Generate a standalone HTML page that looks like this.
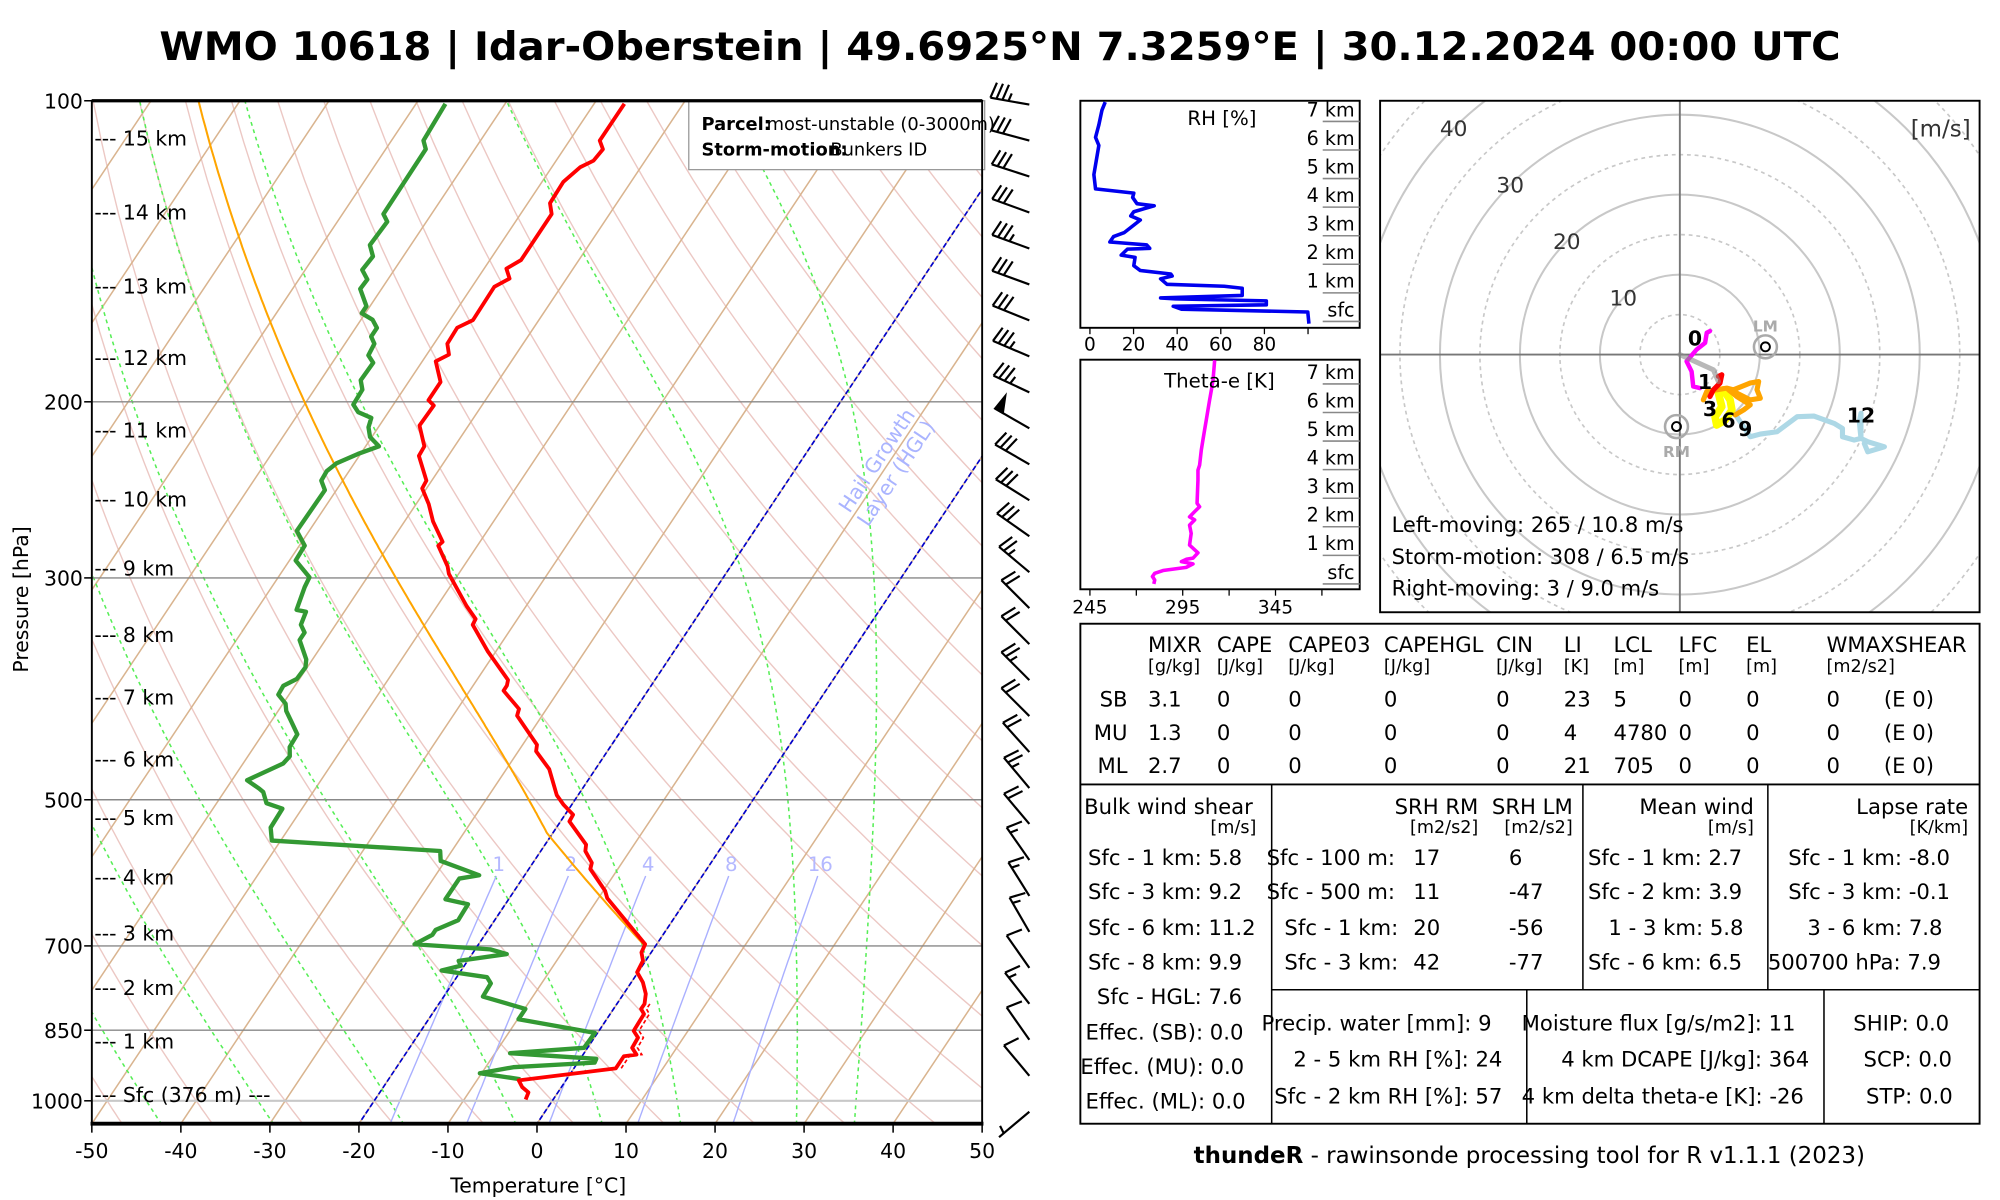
<!DOCTYPE html>
<html><head><meta charset="utf-8"><title>Skew-T WMO 10618</title>
<style>html,body{margin:0;padding:0;background:#fff}svg{display:block}text{font-family:"DejaVu Sans","Liberation Sans",sans-serif}</style>
</head><body>
<svg id="root" xmlns="http://www.w3.org/2000/svg" width="2000" height="1200" viewBox="0 0 1568 940.8">
<defs>
<clipPath id="skewClip"><rect x="72" y="79" width="698" height="802"/></clipPath>
<clipPath id="hodoClip"><rect x="1082" y="79" width="470" height="401"/></clipPath>
<clipPath id="rhClip"><rect x="847" y="79" width="219" height="178"/></clipPath>
<clipPath id="thClip"><rect x="847" y="282" width="219" height="180"/></clipPath>
</defs>
<text x="784" y="47" text-anchor="middle" font-size="31" font-weight="bold" textLength="1318" lengthAdjust="spacingAndGlyphs">WMO 10618 | Idar-Oberstein | 49.6925°N 7.3259°E | 30.12.2024 00:00 UTC</text>
<g id="skew"></g>
<g id="barbs"></g>
<g id="rh"></g>
<g id="th"></g>
<g id="hodo"></g>
<g id="table" font-size="16.6">
  <rect x="847" y="489" width="705" height="392" fill="none" stroke="#000" stroke-width="1.5"/>
  <line x1="847" y1="615" x2="1552" y2="615" stroke="#000" stroke-width="1.5"/>
  <line x1="997" y1="615" x2="997" y2="881" stroke="#000" stroke-width="1.2"/>
  <line x1="1241" y1="615" x2="1241" y2="776" stroke="#000" stroke-width="1.2"/>
  <line x1="1386" y1="615" x2="1386" y2="776" stroke="#000" stroke-width="1.2"/>
  <line x1="997" y1="776" x2="1552" y2="776" stroke="#000" stroke-width="1.2"/>
  <line x1="1197" y1="776" x2="1197" y2="881" stroke="#000" stroke-width="1.2"/>
  <line x1="1430" y1="776" x2="1430" y2="881" stroke="#000" stroke-width="1.2"/>
  <g>
    <text x="900" y="511">MIXR</text><text x="954" y="511">CAPE</text><text x="1010" y="511">CAPE03</text><text x="1085" y="511">CAPEHGL</text><text x="1173" y="511">CIN</text><text x="1226" y="511">LI</text><text x="1265" y="511">LCL</text><text x="1316" y="511">LFC</text><text x="1369" y="511">EL</text><text x="1432" y="511">WMAXSHEAR</text>
    <g font-size="13.8"><text x="900" y="527">[g/kg]</text><text x="954" y="527">[J/kg]</text><text x="1010" y="527">[J/kg]</text><text x="1085" y="527">[J/kg]</text><text x="1173" y="527">[J/kg]</text><text x="1226" y="527">[K]</text><text x="1265" y="527">[m]</text><text x="1316" y="527">[m]</text><text x="1369" y="527">[m]</text><text x="1432" y="527">[m2/s2]</text></g>
  </g>
  <g><text x="884" y="554" text-anchor="end">SB</text><text x="900" y="554">3.1</text><text x="954" y="554">0</text><text x="1010" y="554">0</text><text x="1085" y="554">0</text><text x="1173" y="554">0</text><text x="1226" y="554">23</text><text x="1265" y="554">5</text><text x="1316" y="554">0</text><text x="1369" y="554">0</text><text x="1432" y="554">0</text><text x="1477" y="554">(E 0)</text></g>
  <g><text x="884" y="580" text-anchor="end">MU</text><text x="900" y="580">1.3</text><text x="954" y="580">0</text><text x="1010" y="580">0</text><text x="1085" y="580">0</text><text x="1173" y="580">0</text><text x="1226" y="580">4</text><text x="1265" y="580">4780</text><text x="1316" y="580">0</text><text x="1369" y="580">0</text><text x="1432" y="580">0</text><text x="1477" y="580">(E 0)</text></g>
  <g><text x="884" y="606" text-anchor="end">ML</text><text x="900" y="606">2.7</text><text x="954" y="606">0</text><text x="1010" y="606">0</text><text x="1085" y="606">0</text><text x="1173" y="606">0</text><text x="1226" y="606">21</text><text x="1265" y="606">705</text><text x="1316" y="606">0</text><text x="1369" y="606">0</text><text x="1432" y="606">0</text><text x="1477" y="606">(E 0)</text></g>
  <g>
    <text x="850" y="638">Bulk wind shear</text><text x="985" y="653" text-anchor="end" font-size="13.8">[m/s]</text>
    <text x="853" y="678">Sfc - 1 km: 5.8</text><text x="853" y="705">Sfc - 3 km: 9.2</text><text x="853" y="733">Sfc - 6 km: 11.2</text><text x="853" y="760">Sfc - 8 km: 9.9</text><text x="860" y="787">Sfc - HGL: 7.6</text><text x="851" y="815">Effec. (SB): 0.0</text><text x="847" y="842">Effec. (MU): 0.0</text><text x="851" y="869">Effec. (ML): 0.0</text>
  </g>
  <g>
    <text x="1159" y="638" text-anchor="end">SRH RM</text><text x="1233" y="638" text-anchor="end">SRH LM</text>
    <text x="1159" y="653" text-anchor="end" font-size="13.8">[m2/s2]</text><text x="1233" y="653" text-anchor="end" font-size="13.8">[m2/s2]</text>
    <text x="993" y="678">Sfc - 100 m:</text><text x="1108" y="678">17</text><text x="1183" y="678">6</text>
    <text x="993" y="705">Sfc - 500 m:</text><text x="1108" y="705">11</text><text x="1183" y="705">-47</text>
    <text x="1007" y="733">Sfc - 1 km:</text><text x="1108" y="733">20</text><text x="1183" y="733">-56</text>
    <text x="1007" y="760">Sfc - 3 km:</text><text x="1108" y="760">42</text><text x="1183" y="760">-77</text>
  </g>
  <g>
    <text x="1375" y="638" text-anchor="end">Mean wind</text><text x="1375" y="653" text-anchor="end" font-size="13.8">[m/s]</text>
    <text x="1245" y="678">Sfc - 1 km: 2.7</text><text x="1245" y="705">Sfc - 2 km: 3.9</text><text x="1261" y="733">1 - 3 km: 5.8</text><text x="1245" y="760">Sfc - 6 km: 6.5</text>
  </g>
  <g>
    <text x="1543" y="638" text-anchor="end">Lapse rate</text><text x="1543" y="653" text-anchor="end" font-size="13.8">[K/km]</text>
    <text x="1402" y="678">Sfc - 1 km: -8.0</text><text x="1402" y="705">Sfc - 3 km: -0.1</text><text x="1417" y="733">3 - 6 km: 7.8</text><text x="1386" y="760">500700 hPa: 7.9</text>
  </g>
  <g>
    <text x="989" y="808">Precip. water [mm]: 9</text><text x="1014" y="836">2 - 5 km RH [%]: 24</text><text x="999" y="865">Sfc - 2 km RH [%]: 57</text>
    <text x="1193" y="808">Moisture flux [g/s/m2]: 11</text><text x="1224" y="836">4 km DCAPE [J/kg]: 364</text><text x="1193" y="865">4 km delta theta-e [K]: -26</text>
  </g>
  <g>
    <text x="1453" y="808">SHIP: 0.0</text><text x="1461" y="836">SCP: 0.0</text><text x="1463" y="865">STP: 0.0</text>
  </g>
</g>
<text x="1199" y="912" text-anchor="middle" font-size="18"><tspan font-weight="bold">thundeR</tspan> - rawinsonde processing tool for R v1.1.1 (2023)</text>
</svg>
<script>
// ---- Sounding data (pressure hPa / temperature °C) ----
const tempP=[100.7,109.6,111.8,114.8,116.5,120.5,126.6,129.8,144.3,147.2,150.6,153.5,165.7,168.6,175.0,179.4,182.2,191.1,199.2,201.7,211.2,221.6,226.5,239.8,244.1,253.0,263.4,276.1,278.5,292.1,297.2,320,329.8,334.2,355.4,379.5,384.4,388.9,405.6,412,422.8,440.5,447.2,465.9,494.7,505.9,517.5,525.6,554.4,562.6,578,586.4,616.6,627.2,697.3,710.7,724.3,743.8,761.2,781.8,800.1,809.4,818.9,851.2,864.6,885.1,899,902.6,927.9,953.9,969,980.9,996.9];
const tempT=[-66.6,-66.6,-65.6,-65.8,-66.8,-67.6,-67.5,-66.5,-66.5,-67.5,-66.4,-67.5,-67.4,-68.6,-68.5,-67.5,-68.5,-66.4,-66.4,-65.4,-65.5,-63.4,-63.3,-60.6,-60.5,-58.6,-56.8,-54.2,-54.4,-51.8,-51.1,-46.7,-44.7,-44.6,-40.9,-36.5,-36.2,-36.2,-33.1,-32.8,-31.1,-28.4,-28,-25.2,-22.4,-20.9,-19.1,-19,-15.4,-15,-13.4,-13.1,-9.8,-9,-1.3,-1.1,-0.3,-0.1,1.3,2.5,3.1,3.1,3.8,3.9,4.9,5,6,4.7,4.7,-5.3,-4.4,-3.3,-3.1];
const dewP=[100.7,109.6,111.8,129.8,132.1,139.4,143.1,147.6,150.9,154.2,160.5,163.1,165.6,168.7,172.1,175,179.7,182.8,190.3,194.5,201.3,204.8,207.5,212.1,216.9,221.6,225.5,230.5,234.6,239.8,245.1,269.2,278.5,288.2,299.6,306.3,322.9,324.3,334.2,340.2,346.2,362,368.6,378.6,384.6,392.5,400.8,407.5,417.8,430,442.9,452.3,460,478,487.4,491.2,504,510.3,533,549.3,562.6,575.7,594.9,599.4,628.7,636,659.9,674.6,682.3,697.4,705.6,713.4,724.6,732.6,740.8,752.2,763.2,786.6,809.4,828.9,855.4,885.1,896.2,907.7,915.8,925.5,938.5,951.5];
const dewT=[-86.7,-86.4,-85.5,-85.4,-84.4,-84.6,-83.4,-83.6,-82.3,-82.4,-80.4,-80.4,-78.7,-77.6,-77.6,-76.7,-76.5,-75.4,-75.5,-74.6,-74.5,-73.4,-71.5,-71.1,-70.2,-68.5,-70.3,-72,-72.5,-72.4,-71.3,-71.4,-69.4,-69.3,-66.5,-66.3,-65.5,-64.3,-63.9,-62.9,-62.9,-60.7,-60.2,-60.3,-61.3,-61.2,-59.7,-59.1,-57.7,-56.1,-56,-55.3,-55.5,-58.3,-56.3,-55.6,-54.4,-52.2,-52.1,-51,-31.3,-30.5,-25.1,-27.1,-27.1,-24.2,-24.1,-25.9,-25.9,-27.2,-18.3,-16.1,-21,-20.4,-22.2,-16.6,-15.7,-15.6,-9.9,-9.9,-0.3,-0.4,-8.3,1.8,1.9,-6.9,-10.2,-5.2];
// parcel start (MU) and LCL
const parcelStartP=700, parcelStartT=-1.2, parcelLclP=540;
// axis ticks
const tempTicks=[-50,-40,-30,-20,-10,0,10,20,30,40,50];
const presTicks=[100,200,300,500,700,850,1000];
const kmLabels=["--- 15 km","--- 14 km","--- 13 km","--- 12 km","--- 11 km","--- 10 km","--- 9 km","--- 8 km","--- 7 km","--- 6 km","--- 5 km","--- 4 km","--- 3 km","--- 2 km","--- 1 km","--- Sfc (376 m) ---"];
const kmPres=[108.9,129.1,153.1,180.5,213.3,250.1,293.3,341.5,394.6,455.2,520.9,597.3,679.6,769.7,870.7,985];
const mixRatios=[1,2,4,8,16];
const moistStartT=[-42.1,-29.5,-14.9,-2.3,7.4,16.2,29.2,35.7];
// winds
const barbP=[101,110,119,129,141,153,166,180,196,213,231,251,273,296,322,349,380,412,448,487,529,574,624,678,736,800,869,944,1026];
const barbDir=[280,285,288,290,290,290,292,293,295,300,300,302,305,310,315,315,315,315,318,320,320,325,328,330,325,322,325,320,230];
const barbSpd=[35,30,30,30,35,30,30,35,35,50,30,30,30,25,20,20,25,20,20,25,20,15,15,15,10,15,10,10,5];
// RH / theta-e profiles (height km AGL)
const rhH=[-0.08,0.33,0.43,0.53,0.58,0.72,0.79,0.82,0.91,1.16,1.23,1.30,1.49,1.59,1.66,1.78,1.95,2.24,2.32,2.53,2.56,2.68,2.75,2.78,2.97,3.11,3.55,3.69,3.84,4.05,4.12,4.34,4.49,4.64,5.14,6.16,6.44,6.88,7.39,7.68];
const rhVal=[100.4,99.9,42,38.2,80.9,80.9,39.1,32.4,69.8,69.8,61.6,35.3,32.4,37.7,37.1,23.1,20.1,20.7,14.3,17.2,27.4,26,14.3,9.1,10.8,15.8,23.1,18.7,20.1,29.5,21.6,19.6,20.1,2.6,1.8,4.1,2.6,4.1,5.5,7];
const theH=[0,0.14,0.26,0.37,0.47,0.58,0.70,0.78,0.86,0.90,1.09,1.36,1.77,2.06,2.24,2.35,2.53,2.70,2.82,3.64,3.98,4.16,4.68,5.04,5.39,5.73,6.08,6.43,6.78,7.13,7.83];
const theVal=[279.4,279.9,278.7,279.9,284.4,296.9,300.5,294.3,296.9,300.5,303.2,298.7,299.6,298.7,301.4,298.7,301.4,304.1,302.7,303.2,303.2,304.1,305,305.9,306.8,307.7,308.6,309.5,310.4,311.3,312.2];
const rhTicks=[0,20,40,60,80,100];
const thTicks=[245,270,295,320,345,370];
const kmTicks=[0,1,2,3,4,5,6,7];
// hodograph (u,v m/s)
const magU=[3.77,3.36,3.15,2.10,0.84,1.47,1.68,2.52], magV=[2.94,2.73,1.47,0.63,-0.84,-2.1,-3.98,-4.19];
const grayU=[0,4.19,4.82], grayV=[0,-1.89,-3.36];
const redU=[4.82,5.24,5.03,4.19,3.77], redV=[-2.73,-2.52,-3.56,-4.4,-5.24];
const orgU=[2.94,3.36,5.87,6.71,8.81,9.86,9.65,10.07,8.81,7.13,6.08,7.13,8.81,7.97,6.92], orgV=[-5.66,-4.61,-4.19,-4.40,-3.56,-3.36,-4.40,-5.45,-5.66,-4.82,-4.40,-5.24,-6.29,-6.92,-7.55];
const yelU=[5.45,6.29,6.50,5.66,4.61,4.40,5.24,4.82], yelV=[-4.40,-5.66,-6.92,-8.18,-8.81,-7.76,-6.50,-4.82];
const bluU=[7.13,8.81,10.07,12.16,14.68,16.77,19.29,20.34,20.34,21.81,22.65,22.44,22.65,22.65,23.49,25.58,23.49,23.07], bluV=[-7.76,-10.27,-9.94,-9.65,-7.76,-7.68,-8.60,-9.23,-10.27,-10.69,-10.48,-8.39,-7.34,-10.48,-10.90,-11.53,-12.16,-11.11];
const hodoLabels=["0","1","3","6","9","12"];
const hodoLabU=[1.89,3.15,3.77,6.08,8.18,22.65], hodoLabV=[2.1,-3.36,-6.71,-8.18,-9.23,-7.55];
const lmU=10.7, lmV=0.97, rmU=-0.42, rmV=-9.0;
const ringSpeeds=[5,10,15,20,25,30,35,40,45,50];

const NS="http://www.w3.org/2000/svg";
function mk(parent,tag,attrs,txt){const e=document.createElementNS(NS,tag);for(const k in attrs)e.setAttribute(k,attrs[k]);if(txt!==undefined)e.textContent=txt;parent.appendChild(e);return e;}
function Y(p){return 79+340.5*Math.log(p/100);}
function X(T,p){return 72+(T+50)*6.98+0.667*(881-Y(p));}
function pts(arr){return arr.map(a=>a[0].toFixed(1)+","+a[1].toFixed(1)).join(" ");}
const Rd=287.04,Cp=1005.7,Lv=2.501e6,eps=0.622;
function es(Tk){return 6.112*Math.exp(17.67*(Tk-273.15)/(Tk-29.65));}
function moist(T0,p0,p1){const out=[];let T=T0+273.15;for(let p=p0;p>=p1;p-=2){out.push([X(T-273.15,p),Y(p)]);const e=es(T);const rs=eps*e/(p-e);const d=(Rd*T+Lv*rs)/(p*(Cp+Lv*Lv*rs*eps/(Rd*T*T)));T-=2*d;}return out;}

const sk=document.getElementById('skew');
const bg=mk(sk,'g',{'clip-path':'url(#skewClip)'});


for(let th=-50;th<=220;th+=10){const a=[];for(let p=1060;p>=100;p-=10){const T=(th+273.15)*Math.pow(p/1000,0.2857)-273.15;a.push([X(T,p),Y(p)]);}
 const l=mk(bg,'polyline',{points:pts(a),fill:'none',stroke:'#ecc8c4','stroke-width':1.1});
 
 }
for(let T=-170;T<=50;T+=10){const l=mk(bg,'line',{x1:X(T,1060),y1:Y(1060),x2:X(T,100),y2:Y(100),stroke:'#d9b48f','stroke-width':1.2});
 
 }
moistStartT.forEach(T0=>{const l=mk(bg,'polyline',{points:pts(moist(T0,1056,100)),fill:'none',stroke:'#55ee55','stroke-width':1.2,'stroke-dasharray':'3,3'});
 
 });
mixRatios.forEach(w=>{const a=[];for(let p=1056;p>=596;p-=10){const e=w*p/(622+w);const L=Math.log(e/6.112);const Td=243.5*L/(17.67-L);a.push([X(Td,p),Y(p)]);}
 const l=mk(bg,'polyline',{points:pts(a),fill:'none',stroke:'#aab0ff','stroke-width':1.1});
 
 
 const last=a[a.length-1];
 const t=mk(bg,'text',{x:last[0]+2,y:last[1]-4,'font-size':15.5,fill:'#b4b8ff','text-anchor':'middle'},String(w));
 
 });
presTicks.forEach(p=>{if(p===100)return;const l=mk(bg,'line',{x1:72,y1:Y(p),x2:770,y2:Y(p),stroke:p===1000?'#c8c8c8':'#888','stroke-width':p===1000?1.6:1.1});
 
 });
[0,-20].forEach(T=>{const l=mk(bg,'line',{x1:X(T,1060),y1:Y(1060),x2:X(T,100),y2:Y(100),stroke:'#0000cc','stroke-width':1.3,'stroke-dasharray':'4,2'});
 
 });
const hgl=mk(bg,'text',{transform:'translate(692,364) rotate(-56.3)','font-size':16,fill:'#aab4ff','text-anchor':'middle'});


mk(hgl,'tspan',{x:0,y:0},'Hail Growth');mk(hgl,'tspan',{x:0,y:18},'Layer (HGL)');
{const a=[];const th=(parcelStartT+273.15)*Math.pow(1000/parcelStartP,0.2857);for(let p=parcelStartP;p>=parcelLclP;p-=5){a.push([X(th*Math.pow(p/1000,0.2857)-273.15,p),Y(p)]);}
 const Tl=th*Math.pow(parcelLclP/1000,0.2857)-273.15;const m=moist(Tl,parcelLclP,100);
 const l=mk(bg,'polyline',{points:pts(a.concat(m)),fill:'none',stroke:'#ffa500','stroke-width':1.6});
 
 }
{const a=[];tempP.forEach((p,i)=>{if(p>=800&&p<=930)a.push([X(tempT[i]+0.6,p),Y(p)]);});
 const l=mk(bg,'polyline',{points:pts(a),fill:'none',stroke:'#ff0000','stroke-width':1.3,'stroke-dasharray':'3,2'});
 
 }
{const l=mk(bg,'polyline',{points:pts(dewP.map((p,i)=>[X(dewT[i],p),Y(p)])),fill:'none',stroke:'#339933','stroke-width':3.4,'stroke-linejoin':'round'});
 
 }
{const l=mk(bg,'polyline',{points:pts(tempP.map((p,i)=>[X(tempT[i],p),Y(p)])),fill:'none',stroke:'#ff0000','stroke-width':3,'stroke-linejoin':'round'});
 
 }
kmLabels.forEach((s,i)=>{const t=mk(sk,'text',{x:74,y:Y(kmPres[i])+6,'font-size':16},s);
 
 });
{const g=mk(sk,'g',{});
 
 
 mk(g,'rect',{x:540,y:79,width:232,height:54,fill:'#fff',stroke:'#999','stroke-width':1});
 mk(g,'text',{x:550,y:102,'font-size':14,'font-weight':'bold'},'Parcel:');
 mk(g,'text',{x:601,y:102,'font-size':14},'most-unstable (0-3000m)');
 mk(g,'text',{x:550,y:122,'font-size':14,'font-weight':'bold'},'Storm-motion:');
 mk(g,'text',{x:651,y:122,'font-size':14},'Bunkers ID');}
mk(sk,'rect',{x:72,y:79,width:698,height:802,fill:'none',stroke:'#000','stroke-width':1.5});
mk(sk,'line',{x1:72,y1:79,x2:770,y2:79,stroke:'#000','stroke-width':2.5});
mk(sk,'line',{x1:71,y1:881,x2:771,y2:881,stroke:'#000','stroke-width':3});
tempTicks.forEach(T=>{const x=72+(T+50)*6.98;mk(sk,'line',{x1:x,y1:881,x2:x,y2:888,stroke:'#000','stroke-width':1.2});
 const t=mk(sk,'text',{x:x,y:908,'font-size':16,'text-anchor':'middle'},String(T));
 
 });
presTicks.forEach(p=>{mk(sk,'line',{x1:66,y1:Y(p),x2:72,y2:Y(p),stroke:'#000','stroke-width':1.2});
 const t=mk(sk,'text',{x:65,y:Y(p)+6,'font-size':16,'text-anchor':'end'},String(p));
 
 });
{const t=mk(sk,'text',{x:422,y:935,'font-size':16,'text-anchor':'middle'},'Temperature [°C]');
 
 
 const t2=mk(sk,'text',{transform:'translate(22,470) rotate(-90)','font-size':16,'text-anchor':'middle'},'Pressure [hPa]');
 
 }

// ---- wind barbs ----
const bb=document.getElementById('barbs');
barbP.forEach((p,i)=>{
 const by=82+28.2*i; const bx=807;
 const d=barbDir[i]*Math.PI/180; const sx=Math.sin(d), sy=-Math.cos(d); const L=31;
 const g=mk(bb,'g',{stroke:'#000','stroke-width':1.7,fill:'#000'});
 
 
 mk(g,'line',{x1:bx,y1:by,x2:bx+sx*L,y2:by+sy*L});
 const px=-sy, py=sx; let spd=barbSpd[i]; let pos=L; const bl=12.5;
 while(spd>=50){const x0=bx+sx*pos,y0=by+sy*pos,x1=bx+sx*(pos-7),y1=by+sy*(pos-7);
   mk(g,'polygon',{points:`${x0},${y0} ${x0+px*bl-sx*2},${y0+py*bl-sy*2} ${x1},${y1}`});pos-=9;spd-=50;}
 while(spd>=10){const x0=bx+sx*pos,y0=by+sy*pos;mk(g,'line',{x1:x0,y1:y0,x2:x0+px*bl-sx*3,y2:y0+py*bl-sy*3});pos-=4.8;spd-=10;}
 if(spd>=5){if(pos===L)pos-=4.8;const x0=bx+sx*pos,y0=by+sy*pos;mk(g,'line',{x1:x0,y1:y0,x2:x0+px*bl*0.5-sx*1.5,y2:y0+py*bl*0.5-sy*1.5});}
});

// ---- RH panel ----
const rhG=document.getElementById('rh');
function rhX(v){return 854.5+1.71*v;} function rhY(h){return 252-22.4*h;}
mk(rhG,'rect',{x:847,y:79,width:219,height:178,fill:'#fff',stroke:'#000','stroke-width':1.5});
{const l=mk(rhG,'polyline',{'clip-path':'url(#rhClip)',points:pts(rhH.map((h,i)=>[rhX(rhVal[i]),rhY(h)])),fill:'none',stroke:'#0000ee','stroke-width':2.8,'stroke-linejoin':'round'});
 
 }
mk(rhG,'text',{x:958,y:98,'font-size':15.5,'text-anchor':'middle'},'RH [%]');
rhTicks.forEach(v=>{mk(rhG,'line',{x1:rhX(v),y1:257,x2:rhX(v),y2:262,stroke:'#000','stroke-width':1});if(v<100){const t=mk(rhG,'text',{x:rhX(v),y:275,'font-size':14.5,'text-anchor':'middle'},String(v));
 
 }});
kmTicks.forEach(h=>{mk(rhG,'line',{x1:1037,y1:rhY(h),x2:1066,y2:rhY(h),stroke:'#888','stroke-width':1.2});
 const t=mk(rhG,'text',{x:1062,y:rhY(h)-4,'font-size':15,'text-anchor':'end'},h===0?'sfc':h+' km');
 
 });

// ---- Theta-e panel ----
const thG=document.getElementById('th');
function thX(v){return 854.5+(v-245)*1.455;} function thY(h){return 457.8-22.4*h;}
mk(thG,'rect',{x:847,y:282,width:219,height:180,fill:'#fff',stroke:'#000','stroke-width':1.5});
{const l=mk(thG,'polyline',{'clip-path':'url(#thClip)',points:pts(theH.map((h,i)=>[thX(theVal[i]),thY(h)])),fill:'none',stroke:'#ff00ff','stroke-width':2.8,'stroke-linejoin':'round'});
 
 }
mk(thG,'text',{x:956,y:304,'font-size':15.5,'text-anchor':'middle'},'Theta-e [K]');
thTicks.forEach((v,i)=>{mk(thG,'line',{x1:thX(v),y1:462,x2:thX(v),y2:467,stroke:'#000','stroke-width':1});if(i%2===0){const t=mk(thG,'text',{x:thX(v),y:481,'font-size':14.5,'text-anchor':'middle'},String(v));
 
 }});
kmTicks.forEach(h=>{mk(thG,'line',{x1:1037,y1:thY(h),x2:1066,y2:thY(h),stroke:'#888','stroke-width':1.2});
 const t=mk(thG,'text',{x:1062,y:thY(h)-4,'font-size':15,'text-anchor':'end'},h===0?'sfc':h+' km');
 
 });

// ---- Hodograph ----
const hg=document.getElementById('hodo');
const HC=[1317,278], HS=6.27;
function HX(u){return HC[0]+u*HS;} function HY(v){return HC[1]-v*HS;}
mk(hg,'rect',{x:1082,y:79,width:470,height:401,fill:'#fff'});
const hin=mk(hg,'g',{'clip-path':'url(#hodoClip)'});
ringSpeeds.forEach(s=>{const c=mk(hin,'circle',{cx:HC[0],cy:HC[1],r:s*HS,fill:'none',stroke:'#c8c8c8','stroke-width':s%10===0?1.6:1.3,'stroke-dasharray':s%10===0?'none':'3,3'});
 
 });
mk(hin,'line',{x1:1082,y1:HC[1],x2:1552,y2:HC[1],stroke:'#777','stroke-width':1.5});
mk(hin,'line',{x1:HC[0],y1:79,x2:HC[0],y2:480,stroke:'#777','stroke-width':1.5});
[10,20,30,40].forEach(s=>{const a=Math.PI*0.75;mk(hin,'text',{x:HX(s*Math.cos(a)),y:HY(s*Math.sin(a))+6,'font-size':17,fill:'#333','text-anchor':'middle'},String(s));});
function hline(U,V,col,w,op,name){const l=mk(hin,'polyline',{points:pts(U.map((u,i)=>[HX(u),HY(V[i])])),fill:'none',stroke:col,'stroke-width':w,'stroke-linejoin':'round','stroke-linecap':'round','stroke-opacity':op});
 
 }
hline(bluU,bluV,'#add8e6',4,1,'hodo-9-12km');
hline(yelU,yelV,'#ffff00',6,1,'hodo-6-9km');
hline(orgU,orgV,'#ffa500',4,1,'hodo-3-6km');
hline(redU,redV,'#ff0000',4,1,'hodo-1-3km');
hline(magU,magV,'#ff00ff',3.5,1,'hodo-0-1km');
hline(grayU,grayV,'#888',4,0.6,'hodo-mean-shear');
hodoLabels.forEach((s,i)=>{const t=mk(hin,'text',{x:HX(hodoLabU[i]),y:HY(hodoLabV[i])+6,'font-size':16,'font-weight':'bold','text-anchor':'middle'},s);
 
 });
[[lmU,lmV,'LM',-12],[rmU,rmV,'RM',24]].forEach(m=>{const g=mk(hin,'g',{});
 
 
 mk(g,'circle',{cx:HX(m[0]),cy:HY(m[1]),r:9,fill:'none',stroke:'#aaa','stroke-width':2});
 mk(g,'circle',{cx:HX(m[0]),cy:HY(m[1]),r:3.5,fill:'none',stroke:'#000','stroke-width':1.5});
 mk(g,'text',{x:HX(m[0]),y:HY(m[1])+m[3],'font-size':12,'font-weight':'bold',fill:'#aaa','text-anchor':'middle'},m[2]);});
mk(hg,'rect',{x:1082,y:79,width:470,height:401,fill:'none',stroke:'#000','stroke-width':1.5});
mk(hg,'text',{x:1545,y:107,'font-size':18,fill:'#333','text-anchor':'end'},'[m/s]');
[['Left-moving: 265 / 10.8 m/s',417],['Storm-motion: 308 / 6.5 m/s',442],['Right-moving: 3 / 9.0 m/s',467]].forEach(a=>{const t=mk(hg,'text',{x:1091,y:a[1],'font-size':16.5},a[0]);
 
 });
</script>
</body></html>
